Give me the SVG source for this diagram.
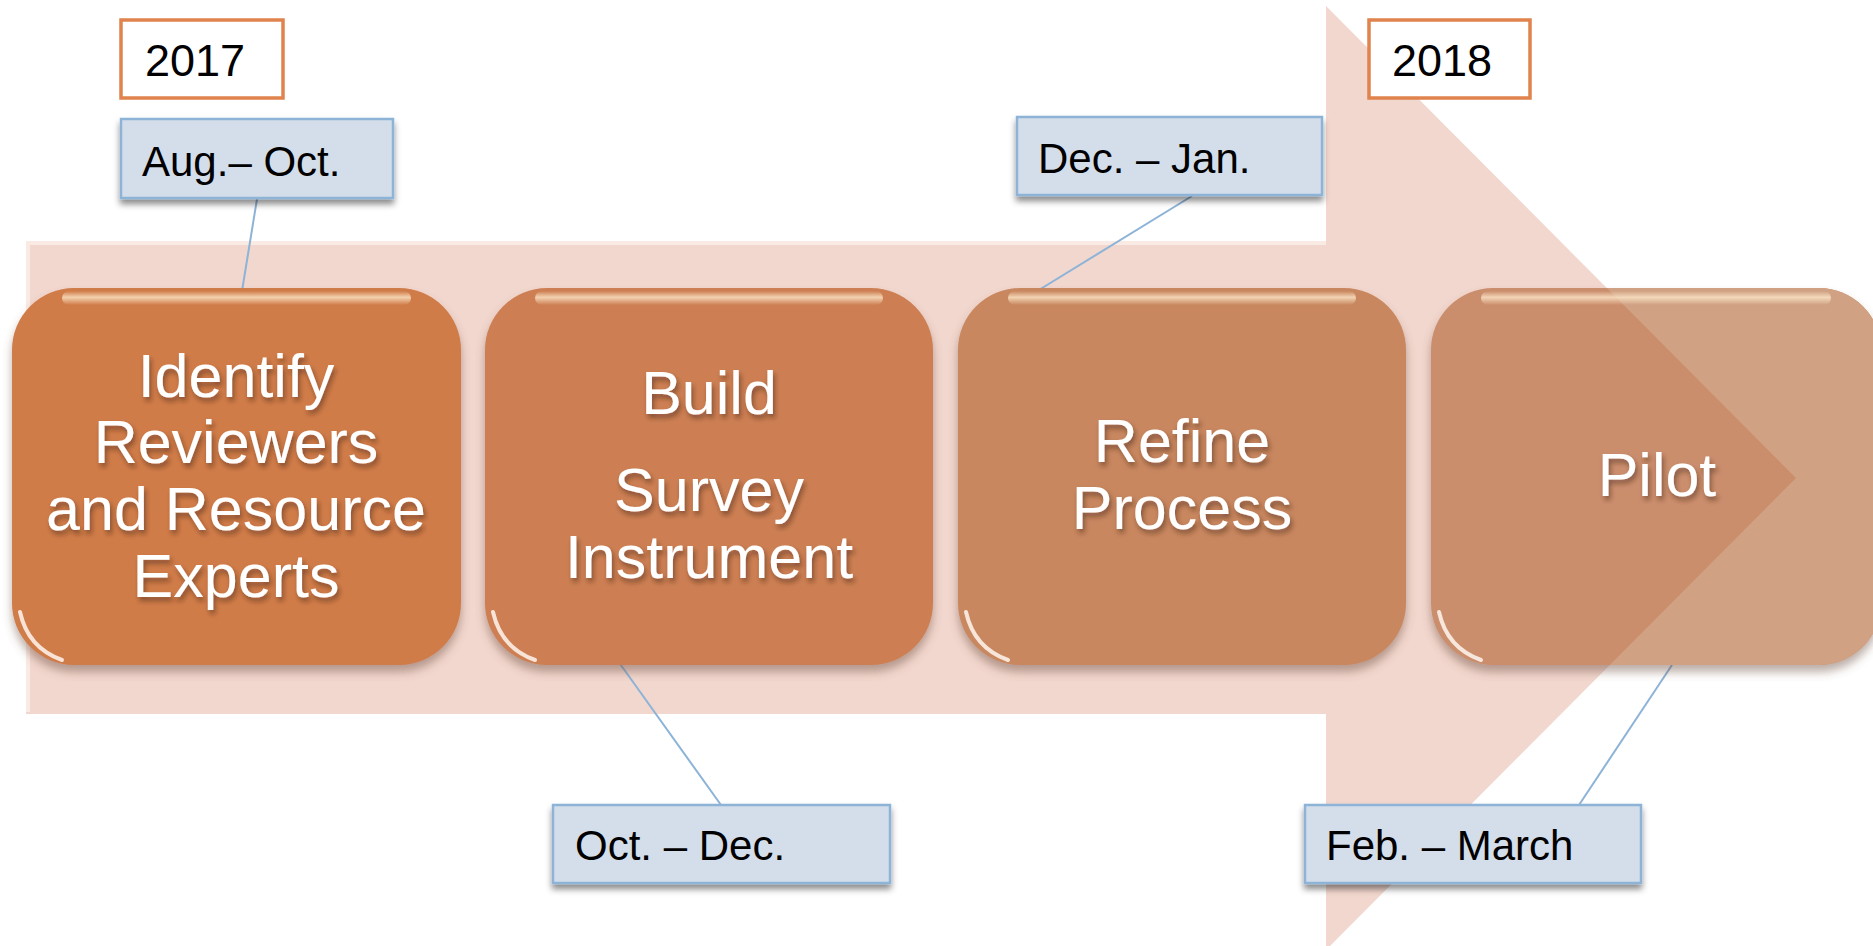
<svg xmlns="http://www.w3.org/2000/svg" width="1873" height="946" viewBox="0 0 1873 946">
<defs>
<style>
.step{font-family:"Liberation Sans",Arial,sans-serif;font-size:61px;fill:#ffffff;text-anchor:middle;}
.lbl{font-family:"Liberation Sans",Arial,sans-serif;font-size:42px;fill:#000000;}
.yr{font-family:"Liberation Sans",Arial,sans-serif;font-size:45px;fill:#000000;}
.callout{fill:#D3DEEA;stroke:#8DB3D7;stroke-width:2.5;}
.year{fill:#ffffff;stroke:#E0834C;stroke-width:3.5;}
.conn{stroke:#8DB3D7;stroke-width:2;fill:none;}
.hl{fill:url(#topHL);}
.crescent{fill:none;stroke:#FFF6EE;stroke-width:4;stroke-linecap:round;opacity:0.85;}
</style>
<filter id="boxShadow" x="-10%" y="-10%" width="120%" height="125%">
<feDropShadow dx="0" dy="7" stdDeviation="5" flood-color="#6b4a3a" flood-opacity="0.45"/>
</filter>
<filter id="lblShadow" x="-10%" y="-10%" width="120%" height="135%">
<feDropShadow dx="0" dy="5" stdDeviation="3" flood-color="#000" flood-opacity="0.45"/>
</filter>
<filter id="txtShadow" x="-10%" y="-20%" width="120%" height="150%">
<feDropShadow dx="2" dy="4" stdDeviation="2.5" flood-color="#3a2010" flood-opacity="0.5"/>
</filter>
<linearGradient id="topHL" x1="0" y1="0" x2="0" y2="1">
<stop offset="0" stop-color="#FCE6C8" stop-opacity="0"/>
<stop offset="0.45" stop-color="#FCE6C8" stop-opacity="0.8"/>
<stop offset="1" stop-color="#FCE6C8" stop-opacity="0"/>
</linearGradient>
<clipPath id="pilotClip">
<rect x="1431" y="288" width="450" height="377" rx="62"/>
</clipPath>
</defs>

<g id="arrow">
<polygon points="26,241 1326,241 1326,6 1796,478 1326,950 1326,714 26,714" fill="#F2D7CE"/>
<polyline points="28,712 28,243 1326,243" fill="none" stroke="#FAEAE4" stroke-width="4"/>
</g>

<g id="connectors">
<line class="conn" x1="257" y1="199" x2="242" y2="291"/>
<line class="conn" x1="1192" y1="196" x2="1034" y2="293"/>
<line class="conn" x1="618" y1="661" x2="721" y2="805"/>
<line class="conn" x1="1672" y1="665" x2="1579" y2="805"/>
</g>

<g id="node-identify">
<rect x="12" y="288" width="449" height="377" rx="62" fill="#D07B4A" filter="url(#boxShadow)"/>
<rect class="hl" x="62" y="291" width="349" height="14" rx="7"/>
<path class="crescent" d="M20,612 Q28,648 62,660"/>
<g class="step" filter="url(#txtShadow)">
<text x="236" y="397">Identify</text>
<text x="236" y="463">Reviewers</text>
<text x="236" y="530">and Resource</text>
<text x="236" y="597">Experts</text>
</g>
</g>

<g id="node-build">
<rect x="485" y="288" width="448" height="377" rx="62" fill="#CD7F52" filter="url(#boxShadow)"/>
<rect class="hl" x="535" y="291" width="348" height="14" rx="7"/>
<path class="crescent" d="M493,612 Q501,648 535,660"/>
<g class="step" filter="url(#txtShadow)">
<text x="709" y="414">Build</text>
<text x="709" y="511">Survey</text>
<text x="709" y="578">Instrument</text>
</g>
</g>

<g id="node-refine">
<rect x="958" y="288" width="448" height="377" rx="62" fill="#C8875F" filter="url(#boxShadow)"/>
<rect class="hl" x="1008" y="291" width="348" height="14" rx="7"/>
<path class="crescent" d="M966,612 Q974,648 1008,660"/>
<g class="step" filter="url(#txtShadow)">
<text x="1182" y="462">Refine</text>
<text x="1182" y="529">Process</text>
</g>
</g>

<g id="node-pilot">
<rect x="1431" y="288" width="450" height="377" rx="62" fill="#CB8E6D" filter="url(#boxShadow)"/>
<polygon clip-path="url(#pilotClip)" points="1326,0 1900,0 1900,950 1326,950 1796,478 1326,6" fill="#D0A183"/>
<rect class="hl" x="1481" y="291" width="350" height="14" rx="7"/>
<path class="crescent" d="M1439,612 Q1447,648 1481,660"/>
<g class="step" filter="url(#txtShadow)">
<text x="1657" y="496">Pilot</text>
</g>
</g>

<g id="year-2017">
<rect class="year" x="121" y="20" width="162" height="78"/>
<text class="yr" x="145" y="76">2017</text>
</g>

<g id="year-2018">
<rect class="year" x="1369" y="20" width="161" height="78"/>
<text class="yr" x="1392" y="76">2018</text>
</g>

<g id="label-aug-oct">
<rect class="callout" x="121" y="119" width="272" height="79" filter="url(#lblShadow)"/>
<text class="lbl" x="142" y="176">Aug.– Oct.</text>
</g>

<g id="label-dec-jan">
<rect class="callout" x="1017" y="117" width="305" height="78" filter="url(#lblShadow)"/>
<text class="lbl" x="1038" y="173">Dec. – Jan.</text>
</g>

<g id="label-oct-dec">
<rect class="callout" x="553" y="805" width="337" height="78" filter="url(#lblShadow)"/>
<text class="lbl" x="575" y="860">Oct. – Dec.</text>
</g>

<g id="label-feb-march">
<rect class="callout" x="1305" y="805" width="336" height="78" filter="url(#lblShadow)"/>
<text class="lbl" x="1326" y="860">Feb. – March</text>
</g>
</svg>
